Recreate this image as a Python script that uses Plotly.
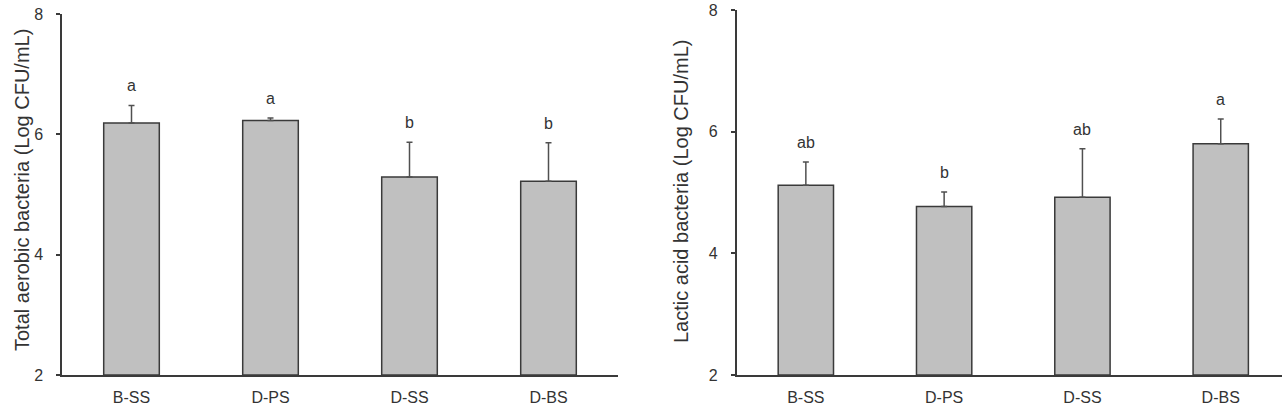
import plotly.graph_objects as go

categories = ["B-SS", "D-PS", "D-SS", "D-BS"]
tab_mean = [6.19, 6.23, 5.29, 5.22]
tab_err = [0.29, 0.04, 0.58, 0.64]
tab_letters = ["a", "a", "b", "b"]
lab_mean = [5.12, 4.77, 4.92, 5.80]
lab_err = [0.38, 0.24, 0.80, 0.41]
lab_letters = ["ab", "b", "ab", "a"]
y_ticks = [2, 4, 6, 8]

W, H = 1282, 409
FONT = "Liberation Sans, Arial, sans-serif"
TXT = "#333333"
LINE = "#3a3a3a"

fig = go.Figure()

def add_panel(means, errs, letters, xa, ya):
    fig.add_trace(go.Bar(
        x=categories, y=[m - 2 for m in means], base=2,
        xaxis=xa, yaxis=ya, width=0.4,
        marker=dict(color="#c0c0c0", line=dict(color=LINE, width=1.5)),
        error_y=dict(type="data", array=errs, arrayminus=[0]*len(errs), symmetric=False,
                     color="#505050", thickness=1.5, width=3),
        showlegend=False, hoverinfo="skip",
    ))
    for c, m, e, t in zip(categories, means, errs, letters):
        fig.add_annotation(x=c, y=m + e, text=t, xref=xa, yref=ya.replace("axis", ""),
                           showarrow=False, yanchor="bottom", yshift=9,
                           font=dict(family=FONT, size=16, color=TXT))

add_panel(tab_mean, tab_err, tab_letters, "x", "y")
add_panel(lab_mean, lab_err, lab_letters, "x2", "y2")

axis_common = dict(showgrid=False, zeroline=False, showline=True, linecolor=LINE,
                   linewidth=1.5, automargin=False)

fig.update_layout(
    width=W, height=H, margin=dict(l=0, r=0, t=0, b=0, autoexpand=False),
    paper_bgcolor="white", plot_bgcolor="white",
    bargap=0.6,
    xaxis=dict(domain=[62 / W, 618 / W], range=[-0.5, 3.5], ticks="",
               tickfont=dict(family=FONT, size=16, color=TXT), ticklabelstandoff=7,
               anchor="y", **axis_common),
    yaxis=dict(domain=[(H - 375) / H, (H - 14) / H], range=[2, 8], tickvals=y_ticks,
               ticks="outside", ticklen=4, tickcolor=LINE, tickwidth=1.5,
               tickfont=dict(family=FONT, size=16, color=TXT), ticklabelstandoff=10,
               anchor="x", **axis_common),
    xaxis2=dict(domain=[736.7 / W, 1.0], range=[-0.5, 3.443], ticks="",
                tickfont=dict(family=FONT, size=16, color=TXT), ticklabelstandoff=7,
                anchor="y2", **axis_common),
    yaxis2=dict(domain=[(H - 375) / H, (H - 10) / H], range=[2, 8], tickvals=y_ticks,
                ticks="outside", ticklen=4, tickcolor=LINE, tickwidth=1.5,
                tickfont=dict(family=FONT, size=16, color=TXT), ticklabelstandoff=10,
                anchor="x2", **axis_common),
)

fig.add_annotation(x=9 / W, y=(H - 190) / H, xref="paper", yref="paper",
                   text="Total aerobic bacteria (Log CFU/mL)", textangle=-90, showarrow=False,
                   font=dict(family=FONT, size=20, color=TXT))
fig.add_annotation(x=681 / W, y=(H - 192) / H, xref="paper", yref="paper",
                   text="Lactic acid bacteria (Log CFU/mL)", textangle=-90, showarrow=False,
                   font=dict(family=FONT, size=20, color=TXT))

fig.write_html("out.html")
